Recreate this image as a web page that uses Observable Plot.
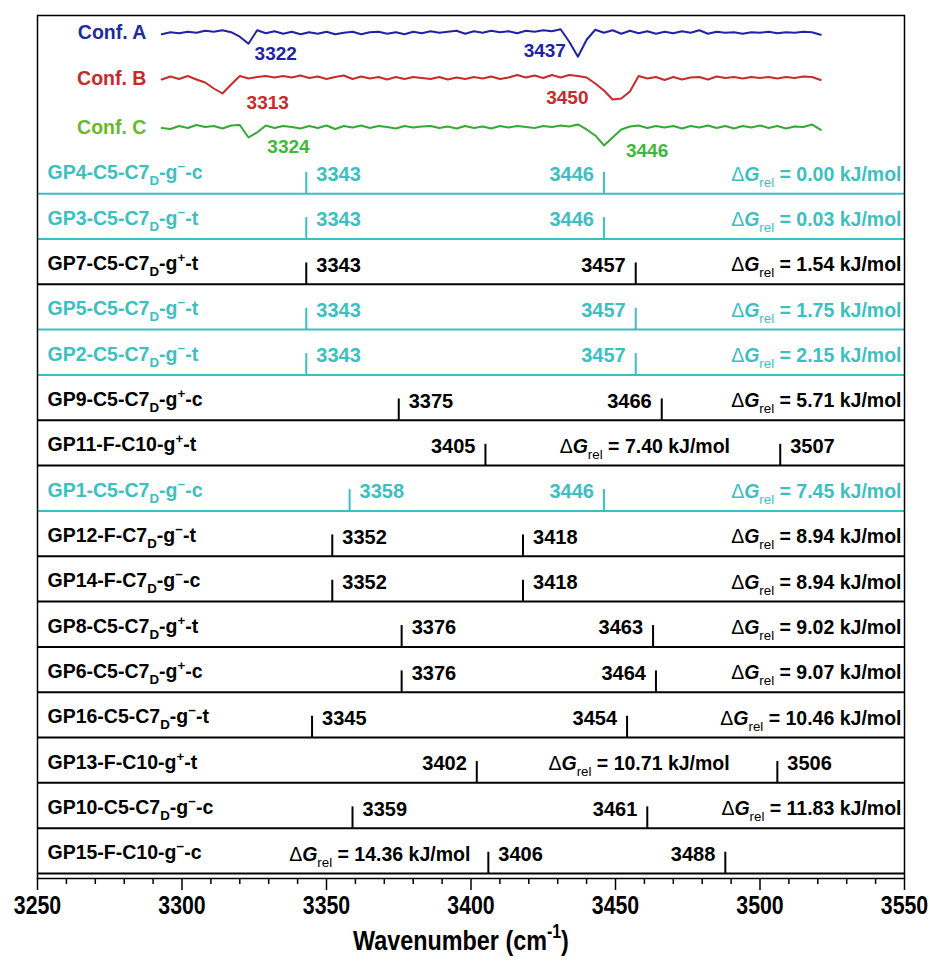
<!DOCTYPE html>
<html><head><meta charset="utf-8">
<script src="https://cdn.jsdelivr.net/npm/d3@7"></script>
<script src="https://cdn.jsdelivr.net/npm/@observablehq/plot@0.6"></script>
<style>body{margin:0;background:#fff;}</style>
</head><body><div id="chart"></div>
<script>
// ---------- data ----------
const conformerNames = ["GP4","GP3","GP7","GP5","GP2","GP9","GP11","GP1","GP12","GP14","GP8","GP6","GP16","GP13","GP10","GP15"];
const conformerLabels = [
  "GP4-C5-C7_{D}-g^{−}-c","GP3-C5-C7_{D}-g^{−}-t","GP7-C5-C7_{D}-g^{+}-t","GP5-C5-C7_{D}-g^{−}-t",
  "GP2-C5-C7_{D}-g^{−}-t","GP9-C5-C7_{D}-g^{+}-c","GP11-F-C10-g^{+}-t","GP1-C5-C7_{D}-g^{−}-c",
  "GP12-F-C7_{D}-g^{−}-t","GP14-F-C7_{D}-g^{−}-c","GP8-C5-C7_{D}-g^{+}-t","GP6-C5-C7_{D}-g^{+}-c",
  "GP16-C5-C7_{D}-g^{−}-t","GP13-F-C10-g^{+}-t","GP10-C5-C7_{D}-g^{−}-c","GP15-F-C10-g^{−}-c"];
const peak1 = [3343,3343,3343,3343,3343,3375,3405,3358,3352,3352,3376,3376,3345,3402,3359,3406];
const peak2 = [3446,3446,3457,3457,3457,3466,3507,3446,3418,3418,3463,3464,3454,3506,3461,3488];
const dGrel = ["0.00","0.03","1.54","1.75","2.15","5.71","7.40","7.45","8.94","8.94","9.02","9.07","10.46","10.71","11.83","14.36"];
const highlighted = ["GP4","GP3","GP5","GP2","GP1"];

const specNames = ["Conf. A","Conf. B","Conf. C"];
const specWavenumber = [3293,3296,3299,3302,3305,3308,3311,3314,3317,3320,3323,3326,3329,3332,3335,3338,3341,3344,3347,3350,3353,3356,3359,3362,3365,3368,3371,3374,3377,3380,3383,3386,3389,3392,3395,3398,3401,3404,3407,3410,3413,3416,3419,3422,3425,3428,3431,3434,3437,3440,3443,3446,3449,3452,3455,3458,3461,3464,3467,3470,3473,3476,3479,3482,3485,3488,3491,3494,3497,3500,3503,3506,3509,3512,3515,3518,3521];
const specA = [-1.5,0.5,-0.5,1,0,2,1,2.5,0.5,-4,-11,2.5,-0.5,1.5,-1,1,-1.5,0.5,-1,1,-1.5,0,1,-1.5,0.5,1,-1,0.5,-1.5,1,-0.5,1.5,0,1,2,-1,1.5,0,2,0.5,1.5,-0.5,2,1,2.5,1.5,3.5,-9,-24,-7,3,0,2.5,-1,2,-0.5,1.5,-1,1,-0.5,1.5,0,2.5,-1,1,0,0.5,-1,0.5,0,1,-0.5,0.5,0,1,0.5,-2];
const specB = [-1,2,-0.5,2.5,-1,-4,-10,-15,-6,2.5,0,1.5,2.5,1,2.5,1,3,0.5,2,-0.5,1.5,3,-0.5,2,0,1.5,-1,1.5,-0.5,1.5,0.5,-0.5,1.5,-1,1,-0.5,1.5,0,2,-0.5,1,3.5,1,3,0.5,3.5,1,3.5,2.5,1,-5,-12,-21,-20,-13,2.5,0,1.5,-1.5,1.5,-1,1,1.5,-1,2,0.5,1.5,0,1.5,0.5,1.5,0,1.5,0.5,2,1.5,-1.5];
const specC = [-0.5,-1.5,1.5,-0.5,2.5,0.5,1.5,-1,2,2.5,-10,-5,2,-0.5,1.5,0.5,-1,1.5,-0.5,2,-1.5,1.5,0,2,-0.5,1.5,0.5,-1,1.5,0,1,1.5,-0.5,1,-1,1.5,-0.5,1,-1,1.5,0,1.5,0.5,-0.5,1.5,0.5,2,1,3,-2,-8,-18,-10,-2,1,2,-0.5,1.5,0,1.5,-1,1.5,0,2,-0.5,1.5,-1,1.5,0,2,-0.5,1.5,-1,1,0.5,3,-2.5];
const specPeaks = [3322,3437,3313,3450,3324,3446];
const specPeakOf = ["Conf. A","Conf. A","Conf. B","Conf. B","Conf. C","Conf. C"];

const majorTicks = [3250,3300,3350,3400,3450,3500,3550];
const minorTicks = [3260,3270,3280,3290,3310,3320,3330,3340,3360,3370,3380,3390,3410,3420,3430,3440,3460,3470,3480,3490,3510,3520,3530,3540];
const xTitle = "Wavenumber (cm^{-1})";

// ---------- styling / layout ----------
const CYAN = "#3dbfc1";
const specColor = {"Conf. A": "#1f22a6", "Conf. B": "#c92a2b", "Conf. C": "#35a935"};
const specLabelColor = {"Conf. A": "#1f2a9c", "Conf. B": "#c42b2b", "Conf. C": "#68b82c"};
const specPeakColor = {"Conf. A": "#1f22a6", "Conf. B": "#c92a2b", "Conf. C": "#3db83a"};
const specOffset = {"Conf. A": -3.55, "Conf. B": -2.54, "Conf. C": -1.46};
const PX = 45.33; // pixels per row unit
// label layout for spectra peaks: [anchor, dx, dy (px below baseline)]
const specPeakLayout = [["start",9,21.5],["end",-12,18.5],["start",27,24],["end",-27,19],["start",16,19],["start",22,23]];
// row layouts: which side the peak labels go
const rowLayout = {GP11: "mid", GP13: "mid", GP12: "right", GP14: "right", GP15: "left"};

const BOLD = "'Liberation Sans', Arial, sans-serif";
const CONDENSE = 0.82;

const rows = conformerNames.map((name, i) => ({
  name, i, label: conformerLabels[i], p1: peak1[i], p2: peak2[i],
  dg: "!{Δ}*{G}%{rel} = " + dGrel[i] + " kJ/mol",
  color: highlighted.includes(name) ? CYAN : "black",
  layout: rowLayout[name] || "default"
}));
const sticks = rows.flatMap(r => [{x: r.p1, r}, {x: r.p2, r}]);
const peakLabels = rows.flatMap(r => {
  const L = r.layout;
  const a1 = (L === "mid") ? ["end", -10] : ["start", 10];
  const a2 = (L === "mid" || L === "right") ? ["start", 10] : ["end", -10];
  return [{x: r.p1, r, anchor: a1[0], dx: a1[1], text: String(r.p1)},
          {x: r.p2, r, anchor: a2[0], dx: a2[1], text: String(r.p2)}];
});
const dgLabels = rows.map(r => {
  if (r.layout === "mid") return {x: (r.p1 + r.p2) / 2, r, anchor: "middle", dx: 12};
  if (r.layout === "left") return {x: r.p1, r, anchor: "end", dx: -18};
  return {x: 3550, r, anchor: "end", dx: -3};
});
const spec = specNames.flatMap((n, k) => {
  const vals = [specA, specB, specC][k];
  return specWavenumber.map((w, j) => ({conf: n, w, v: vals[j]}));
});
const specPeakData = specPeaks.map((p, k) => ({x: p, conf: specPeakOf[k], lay: specPeakLayout[k]}));

const TXT = 0.42; // label height above baseline (row units)

function peakMarks() {
  return d3.groups(peakLabels, d => d.anchor + "|" + d.dx).map(([, arr]) =>
    Plot.text(arr, {x: "x", y: d => d.r.i - TXT, text: "text", fill: d => d.r.color, textAnchor: arr[0].anchor, dx: arr[0].dx, fontSize: 20, fontWeight: "bold", fontFamily: BOLD}));
}
function dgMarks() {
  return d3.groups(dgLabels, d => d.anchor + "|" + d.dx).map(([, arr]) =>
    Plot.text(arr, {x: "x", y: d => d.r.i - TXT, text: d => d.r.dg, fill: d => d.r.color, textAnchor: arr[0].anchor, dx: arr[0].dx, fontSize: 19.5, fontWeight: "bold", fontFamily: BOLD}));
}
function specPeakMarks() {
  return specPeakData.map(d => Plot.text([d], {x: "x", y: dd => specOffset[dd.conf] + dd.lay[2] / PX, text: dd => String(dd.x), fill: specPeakColor[d.conf], textAnchor: d.lay[0], dx: d.lay[1], fontSize: 19, fontWeight: "bold", fontFamily: BOLD}));
}

const chart = Plot.plot({
  width: 930, height: 961,
  marginLeft: 37, marginRight: 26, marginTop: 15, marginBottom: 83,
  style: {background: "white", color: "black", fontFamily: BOLD, overflow: "visible"},
  x: {domain: [3250, 3550], axis: null},
  y: {domain: [15.11, -3.93], axis: null},
  marks: [
    Plot.ruleY(rows, {y: "i", stroke: "color", strokeWidth: 2}),
    Plot.ruleX(sticks, {x: "x", y1: d => d.r.i, y2: d => d.r.i - 0.47, stroke: d => d.r.color, strokeWidth: 2}),
    Plot.text(rows, {x: 3250, y: d => d.i - 0.45, text: "label", fill: "color", textAnchor: "start", dx: 10, fontSize: 19.5, fontWeight: "bold", fontFamily: BOLD}),
    ...peakMarks(), ...dgMarks(),
    Plot.line(spec, {x: "w", y: d => specOffset[d.conf] - d.v / PX, z: "conf", stroke: d => specColor[d.conf], strokeWidth: 2}),
    Plot.text(specNames, {x: 3287.7, y: d => specOffset[d], text: d => d, fill: d => specLabelColor[d], textAnchor: "end", fontSize: 19.5, fontWeight: "bold", fontFamily: BOLD}),
    ...specPeakMarks(),
    Plot.frame({stroke: "black", strokeWidth: 1.5}),
    Plot.axisX({ticks: minorTicks, tickSize: 6, tickFormat: () => "", label: null, strokeWidth: 1.5}),
    Plot.axisX({ticks: majorTicks, tickSize: 12, tickFormat: () => "", label: null, strokeWidth: 1.5}),
    Plot.text(majorTicks, {x: d => d, frameAnchor: "bottom", dy: 35, text: d => String(d), fontSize: 26, fontWeight: "bold", fontFamily: BOLD, fill: "black"}),
    Plot.text([xTitle], {frameAnchor: "bottom", dy: 71, dx: -10, text: d => d, fontSize: 28.5, fontWeight: "bold", fontFamily: BOLD, fill: "black"})
  ]
});
document.getElementById("chart").appendChild(chart);

// rich text: _{sub} %{sub, normal weight} ^{sup} *{italic} !{normal weight}
function richify(svg) {
  svg.querySelectorAll("text").forEach(el => {
    const s = el.textContent;
    if (!/[_^*%!]\{/.test(s)) return;
    const fs = parseFloat(getComputedStyle(el).fontSize) || 16;
    el.textContent = "";
    const re = /([_^*%!])\{([^}]*)\}|([^_^*%!{}]+)/g;
    let m, cur = 0;
    while ((m = re.exec(s))) {
      const ts = document.createElementNS("http://www.w3.org/2000/svg", "tspan");
      let target = 0;
      if (m[3] !== undefined) { ts.textContent = m[3]; }
      else {
        ts.textContent = m[2];
        if (m[1] === "_" || m[1] === "%") { ts.setAttribute("font-size", (fs * 0.68).toFixed(1)); target = fs * 0.3; }
        if (m[1] === "%") ts.setAttribute("font-weight", "normal");
        if (m[1] === "^") { ts.setAttribute("font-size", (fs * 0.68).toFixed(1)); target = -fs * 0.42; }
        if (m[1] === "*") ts.setAttribute("font-style", "italic");
        if (m[1] === "!") ts.setAttribute("font-weight", "normal");
      }
      if (target !== cur) ts.setAttribute("dy", (target - cur).toFixed(2));
      cur = target;
      el.appendChild(ts);
    }
  });
}
// narrow look for the axis texts: the last two text marks (tick labels and axis title)
function condense(svg) {
  const groups = svg.querySelectorAll('g[aria-label="text"]');
  const targets = [groups[groups.length - 2], groups[groups.length - 1]];
  targets.forEach(g => {
    if (!g) return;
    g.querySelectorAll("text").forEach(el => {
      const bb = el.getBBox();
      const cx = el.getAttribute("text-anchor") === "start" ? bb.x : (el.getAttribute("text-anchor") === "end" ? bb.x + bb.width : bb.x + bb.width / 2);
      const tr = el.getAttribute("transform") || "";
      // condense about the text's anchor point (in its own coordinates)
      el.setAttribute("transform", `${tr} translate(${cx},0) scale(${CONDENSE},1) translate(${-cx},0)`);
    });
  });
}
richify(chart);
condense(chart);
</script>
</body></html>
